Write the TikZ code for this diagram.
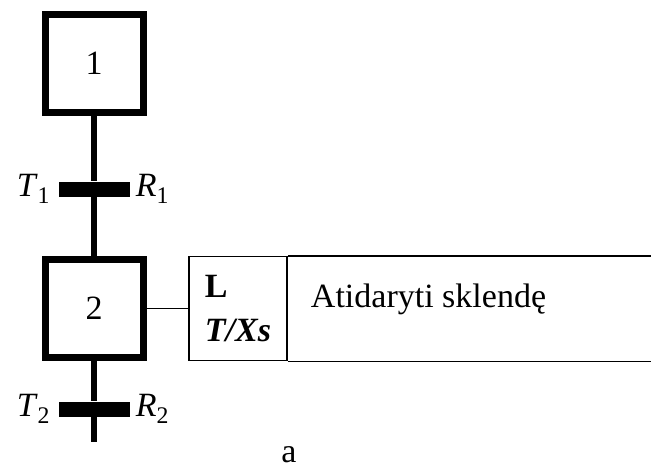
\documentclass[tikz,border=0pt]{standalone}
\usepackage{fontspec}
\setmainfont{Liberation Serif}
\usetikzlibrary{positioning}
\newcommand{\policeGrafcet}{\fontsize{34pt}{44pt}\selectfont}

\begin{document}
\begin{tikzpicture}[x=1pt, y=-1pt]
    \tikzset{every node/.append style={font=\policeGrafcet}}
    \tikzstyle{etapeEncadre}=[draw, line width=7pt, minimum size=98pt, inner sep=0pt]
    \tikzstyle{barreTransition}=[fill, minimum width=71pt, minimum height=15pt, inner sep=0pt]
    \tikzstyle{lienEtape}=[line width=6pt]
    \tikzstyle{actionEncadre}=[draw, line width=1.5pt, minimum height=104pt, inner sep=0pt]
    \tikzstyle{etiquette}=[inner sep=0pt]

    \useasboundingbox (0,0) rectangle (651,467);

    % steps
    \node [etapeEncadre] (etape1) at (94,63) {1};
    \node [etapeEncadre] (etape2) at (94,308.5) {2};
    % transitions and their receptivities
    \node [barreTransition] (trans1) at (94,189) {};
    \node [barreTransition] (trans2) at (94,409) {};
    \node [etiquette, left=8pt of trans1] (recT1) {\textit{T}\textsubscript{1}};
    \node [etiquette, right=6pt of trans1] (recR1) {\textit{R}\textsubscript{1}};
    \node [etiquette, left=8pt of trans2] (recT2) {\textit{T}\textsubscript{2}};
    \node [etiquette, right=6pt of trans2] (recR2) {\textit{R}\textsubscript{2}};
    \coordinate (fin) at (94,442);
    \draw [lienEtape] (etape1) -- (trans1) -- (etape2);
    \draw [lienEtape] (etape2) -- (trans2) -- (fin);

    % action attached to step 2 (open on the right)
    \node [actionEncadre, minimum width=98pt, align=left] (qualif) at (238,308.5)
        {\textbf{L}\\\textbf{\textit{T/Xs}}};
    \node [anchor=west, inner xsep=23pt, inner ysep=0pt, minimum height=104pt,
        text height=23pt, text depth=25pt] (libelle) at (qualif.east) {Atidaryti sklendę};
    \coordinate (bord) at (651,0);
    \draw [line width=1.5pt] (qualif.north east) -- (qualif.north east -| bord);
    \draw [line width=1.5pt] (qualif.south east) -- (qualif.south east -| bord);
    \draw [line width=1.2pt] (etape2) -- (qualif);

    \node [etiquette] (legende) at (289,455) {a};
\end{tikzpicture}
\end{document}
